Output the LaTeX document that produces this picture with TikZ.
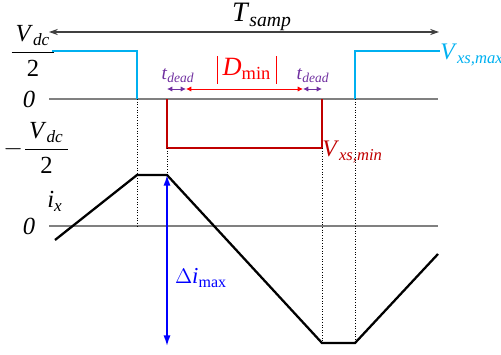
\documentclass[tikz,border=0pt]{standalone}
\usepackage{fontspec}
\setmainfont{Liberation Serif}
\usepackage{xcolor}
\usetikzlibrary{arrows.meta,positioning}
\definecolor{skyblue}{HTML}{00B0F0}
\definecolor{darkred}{HTML}{C00000}
\definecolor{brightred}{HTML}{FF0000}
\definecolor{deadpurple}{HTML}{7030A0}
\definecolor{arrowblue}{HTML}{0000FF}
\definecolor{axisgray}{HTML}{808080}
\definecolor{arrowgray}{HTML}{404040}
\tikzset{
  axisline/.style={draw=axisgray, line width=0.7pt},
  voltline/.style={draw=#1, line width=1.3pt},
  voltline/.default=skyblue,
  curline/.style={draw=black, line width=1.3pt},
  guide/.style={densely dotted, black, line width=0.5pt},
  deadarrow/.style={{Latex[length=3pt,width=3pt]}-{Latex[length=3pt,width=3pt]}, draw=#1, line width=0.5pt},
  deadarrow/.default=deadpurple,
  biglbl/.style={font=\fontsize{14}{16}\selectfont, inner sep=0pt},
  smalllbl/.style={font=\fontsize{11}{13}\selectfont, inner sep=0pt},
}
\newcommand{\halfdc}{\frac{\hbox{\,\textit{V}\textsubscript{\textit{dc}}\,}}{\hbox{2}}}
\newcommand{\absbar}{\rule[-4.5pt]{0.7pt}{15.5pt}}

\begin{document}
\begin{tikzpicture}[x=0.02cm, y=-0.02cm]
    \useasboundingbox (0,0) rectangle (501,355);
    % axes
    \coordinate (vleft) at (49,99);   \coordinate (vright) at (438,99);
    \coordinate (ileft) at (49,226);  \coordinate (iright) at (438,226);
    \draw[axisline] (vleft) -- (vright);
    \draw[axisline] (ileft) -- (iright);
    % sampling period
    \coordinate (tsleft) at (49,32);  \coordinate (tsright) at (439,32);
    \draw[{Stealth[length=5pt,width=3.5pt]}-{Stealth[length=5pt,width=3.5pt]}, arrowgray, line width=0.6pt] (tsleft) -- (tsright);
    \node[biglbl, font=\fontsize{16}{18}\selectfont] (tsamp) at (262,17) {\textit{T}\textsubscript{\textit{samp}}};
    % voltage levels
    \coordinate (a1) at (52,51);   \coordinate (a2) at (137,51);  \coordinate (a3) at (137,99);
    \coordinate (b1) at (355,99);  \coordinate (b2) at (355,51);  \coordinate (b3) at (440,51);
    \coordinate (r1) at (167,99);  \coordinate (r2) at (167,148); \coordinate (r3) at (322,148); \coordinate (r4) at (322,99);
    \draw[voltline] (a1) -- (a2) -- (a3);
    \draw[voltline] (b1) -- (b2) -- (b3);
    \draw[voltline=darkred] (r1) -- (r2) -- (r3) -- (r4);
    \node[biglbl, anchor=west, text=skyblue, font=\fontsize{13.5}{15}\selectfont] (vmax) at (440,55) {\textit{V}\textsubscript{\textit{xs,max}}};
    \node[biglbl, anchor=west, text=darkred, font=\fontsize{13.5}{15}\selectfont] (vmin) at (322,152) {\textit{V}\textsubscript{\textit{xs,min}}};
    \node[biglbl] (vpos) at (33,51) {$\displaystyle\halfdc$};
    \node[biglbl] (vzero) at (29,99) {\textit{0}};
    \node[biglbl, anchor=west] (vneg) at (3,148) {$-\displaystyle\halfdc$};
    % dead time and minimum pulse
    \coordinate (d1) at (167,89);  \coordinate (d2) at (186,89);
    \coordinate (d3) at (303,89);  \coordinate (d4) at (322,89);
    \draw[deadarrow] (d1) -- (d2);
    \draw[deadarrow=brightred] (d2) -- (d3);
    \draw[deadarrow] (d3) -- (d4);
    \node[smalllbl, text=deadpurple] (tdl) at (178,76) {\textit{t}\textsubscript{\textit{dead}}};
    \node[smalllbl, text=deadpurple] (tdr) at (313,76) {\textit{t}\textsubscript{\textit{dead}}};
    \node[biglbl, text=brightred, font=\fontsize{15}{17}\selectfont] (dmin) at (247,70) {\absbar\,\textit{D}\textsubscript{min}\,\absbar};
    % phase current
    \coordinate (c1) at (55,240);   \coordinate (c2) at (137,175);
    \coordinate (c3) at (167,175);  \coordinate (c4) at (322,343);
    \coordinate (c5) at (355,343);  \coordinate (c6) at (438,254);
    \draw[curline] (c1) -- (c2) -- (c3) -- (c4) -- (c5) -- (c6);
    \node[biglbl] (ilbl) at (55,201) {\textit{i}\textsubscript{\textit{x}}};
    \node[biglbl] (izero) at (29,226) {\textit{0}};
    % guides
    \draw[guide] (a3) -- (a3 |- ileft);
    \draw[guide] (r2) -- (c3);
    \draw[guide] (r3) -- (c4);
    \draw[guide] (b1) -- (c5);
    % ripple
    \coordinate (rb) at (167,346);
    \draw[{Latex[length=6pt,width=4pt]}-{Latex[length=6pt,width=4pt]}, arrowblue, line width=0.9pt] (c3) -- (rb);
    \node[biglbl, text=arrowblue, font=\fontsize{13}{15}\selectfont] (ripple) at (201,278) {$\Delta$\textit{i}\textsubscript{max}};
\end{tikzpicture}
\end{document}
